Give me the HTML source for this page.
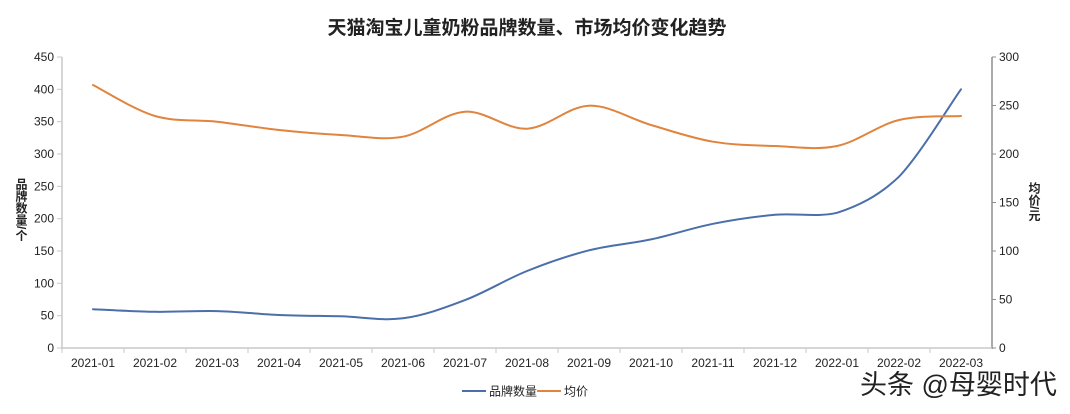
<!DOCTYPE html>
<html><head><meta charset="utf-8">
<style>
html,body{margin:0;padding:0;background:#fff;}
svg{display:block;}
text{font-family:"Liberation Sans","Noto Sans CJK SC",sans-serif;fill:#222;}
</style></head>
<body>
<svg width="1070" height="414" viewBox="0 0 1070 414" xmlns="http://www.w3.org/2000/svg">
<text x="527" y="34" text-anchor="middle" font-size="19" font-weight="bold" fill="#111">天猫淘宝儿童奶粉品牌数量、市场均价变化趋势</text>

<!-- left axis -->
<line x1="62" y1="57" x2="62" y2="349" stroke="#c8c8c8" stroke-width="1.5"/>
<g stroke="#c8c8c8" stroke-width="1">
<line x1="57" y1="57" x2="62" y2="57"/><line x1="57" y1="89.3" x2="62" y2="89.3"/><line x1="57" y1="121.7" x2="62" y2="121.7"/>
<line x1="57" y1="154" x2="62" y2="154"/><line x1="57" y1="186.3" x2="62" y2="186.3"/><line x1="57" y1="218.7" x2="62" y2="218.7"/>
<line x1="57" y1="251" x2="62" y2="251"/><line x1="57" y1="283.3" x2="62" y2="283.3"/><line x1="57" y1="315.7" x2="62" y2="315.7"/>
<line x1="57" y1="348" x2="62" y2="348"/>
</g>
<g font-size="12" text-anchor="end">
<text x="54" y="61">450</text><text x="54" y="93.3">400</text><text x="54" y="125.7">350</text>
<text x="54" y="158">300</text><text x="54" y="190.3">250</text><text x="54" y="222.7">200</text>
<text x="54" y="255">150</text><text x="54" y="287.3">100</text><text x="54" y="319.7">50</text>
<text x="54" y="352">0</text>
</g>
<text x="21" y="178" font-size="12" font-weight="bold" style="writing-mode:vertical-rl;">品牌数量/个</text>

<!-- right axis -->
<line x1="992" y1="57" x2="992" y2="349" stroke="#8f8f8f" stroke-width="1.5"/>
<g stroke="#8f8f8f" stroke-width="1">
<line x1="992" y1="57" x2="996" y2="57"/><line x1="992" y1="105.5" x2="996" y2="105.5"/><line x1="992" y1="154" x2="996" y2="154"/>
<line x1="992" y1="202.5" x2="996" y2="202.5"/><line x1="992" y1="251" x2="996" y2="251"/><line x1="992" y1="299.5" x2="996" y2="299.5"/>
<line x1="992" y1="348" x2="996" y2="348"/>
</g>
<g font-size="12" text-anchor="start">
<text x="999" y="61">300</text><text x="999" y="109.5">250</text><text x="999" y="158">200</text>
<text x="999" y="206.5">150</text><text x="999" y="255">100</text><text x="999" y="303.5">50</text>
<text x="999" y="352">0</text>
</g>
<text x="1034" y="182" font-size="12" font-weight="bold" style="writing-mode:vertical-rl;">均价/元</text>

<!-- bottom axis -->
<line x1="62" y1="348" x2="992" y2="348" stroke="#c8c8c8" stroke-width="1.5"/>
<g stroke="#c8c8c8" stroke-width="1">
<line x1="62" y1="348" x2="62" y2="353"/><line x1="124" y1="348" x2="124" y2="353"/><line x1="186" y1="348" x2="186" y2="353"/>
<line x1="248" y1="348" x2="248" y2="353"/><line x1="310" y1="348" x2="310" y2="353"/><line x1="372" y1="348" x2="372" y2="353"/>
<line x1="434" y1="348" x2="434" y2="353"/><line x1="496" y1="348" x2="496" y2="353"/><line x1="558" y1="348" x2="558" y2="353"/>
<line x1="620" y1="348" x2="620" y2="353"/><line x1="682" y1="348" x2="682" y2="353"/><line x1="744" y1="348" x2="744" y2="353"/>
<line x1="806" y1="348" x2="806" y2="353"/><line x1="868" y1="348" x2="868" y2="353"/><line x1="930" y1="348" x2="930" y2="353"/>
</g>
<g font-size="12" text-anchor="middle">
<text x="93" y="367">2021-01</text><text x="155" y="367">2021-02</text><text x="217" y="367">2021-03</text>
<text x="279" y="367">2021-04</text><text x="341" y="367">2021-05</text><text x="403" y="367">2021-06</text>
<text x="465" y="367">2021-07</text><text x="527" y="367">2021-08</text><text x="589" y="367">2021-09</text>
<text x="651" y="367">2021-10</text><text x="713" y="367">2021-11</text><text x="775" y="367">2021-12</text>
<text x="837" y="367">2022-01</text><text x="899" y="367">2022-02</text><text x="961" y="367">2022-03</text>
</g>

<!-- series -->
<path fill="none" stroke="#4a6fab" stroke-width="2" stroke-linecap="round" d="M93,309.2 C103.3,309.6 134.3,311.5 155,311.8 C175.7,312.1 196.3,310.6 217,311.1 C237.7,311.6 258.3,314.1 279,315.0 C299.7,315.9 320.3,315.8 341,316.3 C361.7,316.9 382.3,321.0 403,318.3 C423.7,315.6 444.3,308.0 465,300.1 C485.7,292.2 506.3,279.3 527,271.0 C547.7,262.7 568.3,255.6 589,250.3 C609.7,245.0 630.3,243.8 651,239.4 C671.7,235.0 692.3,227.9 713,223.8 C733.7,219.7 754.3,216.6 775,214.8 C795.7,213.0 816.3,217.5 837,212.8 C857.7,206.1 878.4,196.3 899,176.7 C919.7,155.1 950.7,103.5 961,89.3"/>
<path fill="none" stroke="#e0843e" stroke-width="2" stroke-linecap="round" d="M93,85 C103.3,90.2 134.3,109.9 155,116 C175.7,122.1 196.3,119.4 217,121.7 C237.7,124.0 258.3,127.8 279,130 C299.7,132.2 320.3,133.9 341,135 C361.7,136.1 382.3,140.6 403,136.7 C423.7,132.8 444.3,113.0 465,111.7 C485.7,110.4 506.3,129.7 527,128.7 C547.7,127.7 568.3,106.3 589,105.7 C609.7,105.1 630.3,119.0 651,125 C671.7,131.0 692.3,138.2 713,141.7 C733.7,145.2 754.3,145.3 775,146 C795.7,146.7 816.3,150.3 837,146 C857.7,141.7 878.3,125.0 899,120 C919.7,115.0 950.7,116.7 961,116"/>

<!-- legend -->
<line x1="462" y1="391" x2="486" y2="391" stroke="#4a6fab" stroke-width="2"/>
<text x="489" y="395.5" font-size="12">品牌数量</text>
<line x1="537" y1="391" x2="561" y2="391" stroke="#e0843e" stroke-width="2"/>
<text x="564" y="395.5" font-size="12">均价</text>

<!-- watermark -->
<text x="860" y="394" font-size="27" fill="#3a3a3a" style="paint-order:stroke;" stroke="#fff" stroke-width="1">头条 @母婴时代</text>
</svg>
</body></html>
